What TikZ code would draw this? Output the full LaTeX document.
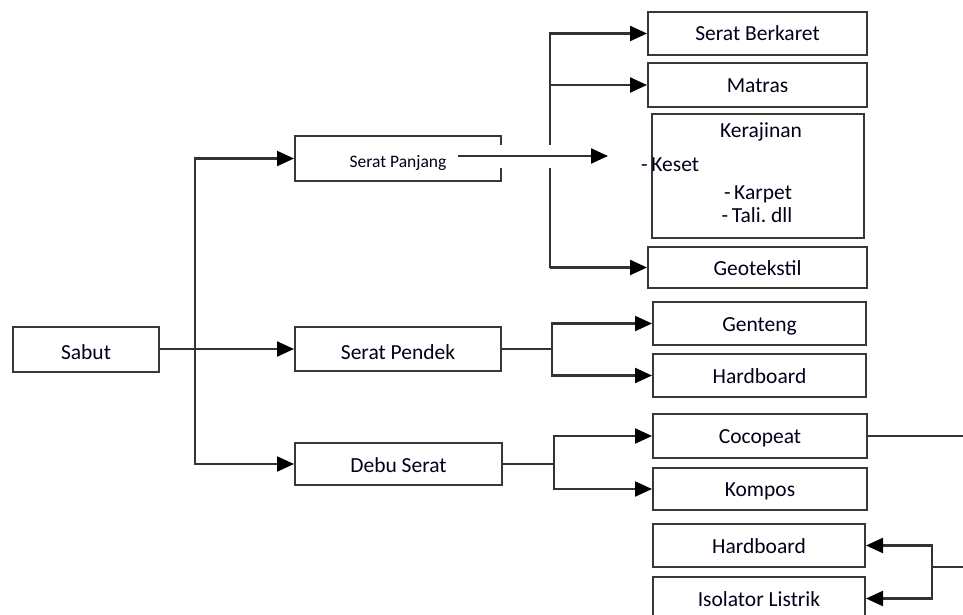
\documentclass[tikz,border=0pt]{standalone}
\usepackage{fontspec}
\setmainfont{Carlito}
\usetikzlibrary{arrows.meta}
\begin{document}
\begin{tikzpicture}[x=1pt,y=-1pt,
  txt/.style={text=black!90!blue},
  box/.style={draw=black!78, line width=2pt, inner sep=0pt, txt,
    font=\fontsize{21.5}{24}\selectfont, text height=15pt, text depth=0pt},
  bigtext/.style={font=\fontsize{21.5}{24}\selectfont},
  ln/.style={draw=black!80, line width=2.2pt},
  arr/.style={ln, -{Triangle[length=17pt,width=15pt,fill=black,color=black]}}]
\useasboundingbox (0,0) rectangle (963,615);
\clip (0,0) rectangle (963,615);
% left column
\node[box, minimum width=146pt, minimum height=45pt, text height=21pt] (sabut) at (86,349) {Sabut};
\node[box, minimum width=206pt, minimum height=45pt, text height=18pt,
  font=\fontsize{17.5}{20}\selectfont] (panjang) at (398,158.5) {Serat Panjang};
\node[box, minimum width=206pt, minimum height=44pt, text height=20pt] (pendek) at (398,349) {Serat Pendek};
\node[box, minimum width=207pt, minimum height=42pt, text height=16pt] (debu) at (398.5,464) {Debu Serat};
% right column
\node[box, minimum width=219pt, minimum height=43pt] (berkaret) at (757.5,33.5) {Serat Berkaret};
\node[box, minimum width=219pt, minimum height=44pt] (matras) at (757.5,85) {Matras};
\node[box, minimum width=212pt, minimum height=124pt] (kerajinan) at (758,176) {};
\node[box, minimum width=219pt, minimum height=41pt] (geo) at (757.5,267.5) {Geotekstil};
\node[box, minimum width=213pt, minimum height=43pt] (genteng) at (759.5,323.5) {Genteng};
\node[box, minimum width=213pt, minimum height=43pt] (hard1) at (759.5,375.5) {Hardboard};
\node[box, minimum width=214pt, minimum height=44pt] (coco) at (760,436) {Cocopeat};
\node[box, minimum width=214pt, minimum height=42pt] (kompos) at (760,489) {Kompos};
\node[box, minimum width=212pt, minimum height=43pt] (hard2) at (759,545.5) {Hardboard};
\node[box, minimum width=212pt, minimum height=43pt] (iso) at (759,598.5) {Isolator Listrik};
% Kerajinan texts
\node[txt, bigtext, anchor=base, inner sep=0pt] (kt) at (761,138) {Kerajinan};
\node[txt, bigtext, anchor=base west, inner sep=0pt] (keset) at (641,171) {-\,Keset};
\node[txt, bigtext, anchor=base, inner sep=0pt] (karpet) at (758,199) {-\,Karpet};
\node[txt, bigtext, anchor=base, inner sep=0pt] (tali) at (757,222) {-\,Tali.\ dll};
% trunk from Sabut
\coordinate (tr) at (195,349);
\draw[arr] (sabut.east) -- (pendek.west);
\draw[arr] (tr) |- (panjang.west);
\draw[arr] (tr) |- (debu.west);
% bracket top
\coordinate (bx) at (550,0);
\draw[arr] (geo.west -| bx) |- (berkaret.west);
\draw[arr] (matras.west -| bx) -- (matras.west);
\draw[arr] (geo.west -| bx) -- (geo.west);
% serat panjang arrow with break
\fill[white] (454,145) rectangle (604,168);
\coordinate (spa) at (458,156);
\coordinate (spb) at (608,156);
\draw[arr] (spa) -- (spb);
% serat pendek
\draw[arr] (pendek.east) -- ++(50,0) |- (genteng.west);
\draw[arr] (pendek.east) -- ++(50,0) |- (hard1.west);
% debu serat
\draw[arr] (debu.east) -- ++(51,0) |- (coco.west);
\draw[arr] (debu.east) -- ++(51,0) |- (kompos.west);
% right side
\coordinate (ea) at (963,436);
\draw[ln] (coco.east) -- (ea);
\coordinate (eb) at (963,567);
\draw[arr] (eb) -- (932,567) |- (hard2.east);
\draw[arr] (eb) -- (932,567) |- (iso.east);
\end{tikzpicture}
\end{document}
